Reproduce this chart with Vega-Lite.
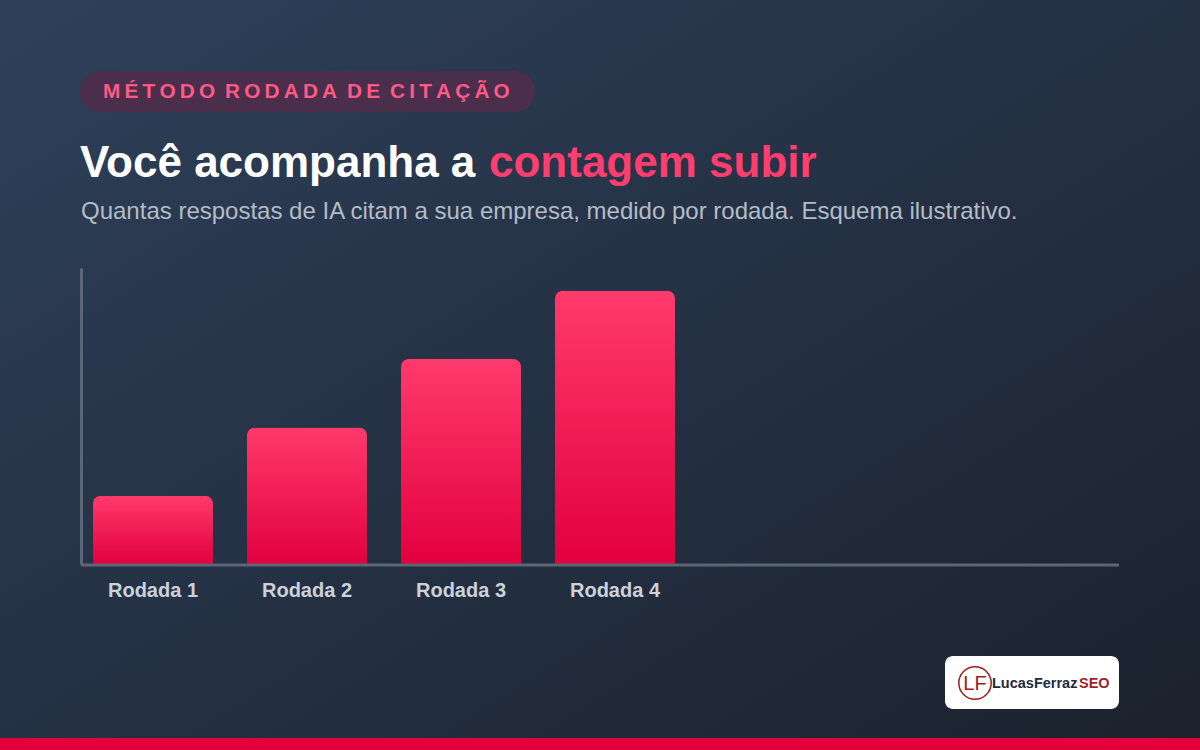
{
  "$schema": "https://vega.github.io/schema/vega-lite/v6.json",
  "width": 1038,
  "height": 296,
  "padding": 0,
  "background": "#212a37",
  "config": {
    "view": {"stroke": null},
    "font": "Liberation Sans"
  },
  "layer": [
    {
      "data": {"values": [{"k": 1}]},
      "mark": {"type": "rect", "color": {"gradient": "linear", "x1": 0, "y1": 0, "x2": 1, "y2": 1, "stops": [{"offset": 0, "color": "#2e405a"}, {"offset": 1, "color": "#1b222d"}]}},
      "encoding": {"x": {"value": -81}, "x2": {"value": 1119}, "y": {"value": -268}, "y2": {"value": 482}}
    },
    {
      "data": {"values": [{"k": 1}]},
      "mark": {"type": "rect", "color": "#e4003b"},
      "encoding": {"x": {"value": -81}, "x2": {"value": 1119}, "y": {"value": 470}, "y2": {"value": 482}}
    },
    {
      "data": {"values": [{"k": 1}]},
      "mark": {"type": "rect", "color": "#4a2e4b", "cornerRadius": 21},
      "encoding": {"x": {"value": -1}, "x2": {"value": 454}, "y": {"value": -197}, "y2": {"value": -156}}
    },
    {
      "data": {"values": [{"t": "M\u2009É\u2009T\u2009O\u2009D\u2009O\u2009 R\u2009O\u2009D\u2009A\u2009D\u2009A\u2009 D\u2009E\u2009 C\u2009I\u2009T\u2009A\u2009Ç\u2009Ã\u2009O"}]},
      "mark": {"type": "text", "font": "Liberation Sans", "fontWeight": "bold", "fontSize": 20.8, "color": "#ff5a86", "align": "left", "baseline": "alphabetic"},
      "encoding": {"text": {"field": "t"}, "x": {"value": 22}, "y": {"value": -170}}
    },
    {
      "data": {"values": [{"t": "Você acompanha a"}]},
      "mark": {"type": "text", "font": "Liberation Sans", "fontWeight": "bold", "fontSize": 44, "color": "#ffffff", "align": "left", "baseline": "alphabetic"},
      "encoding": {"text": {"field": "t"}, "x": {"value": -1}, "y": {"value": -91}}
    },
    {
      "data": {"values": [{"t": "contagem subir"}]},
      "mark": {"type": "text", "font": "Liberation Sans", "fontWeight": "bold", "fontSize": 44, "color": "#ff3d6e", "align": "left", "baseline": "alphabetic"},
      "encoding": {"text": {"field": "t"}, "x": {"value": 408}, "y": {"value": -91}}
    },
    {
      "data": {"values": [{"t": "Quantas respostas de IA citam a sua empresa, medido por rodada. Esquema ilustrativo."}]},
      "mark": {"type": "text", "font": "Liberation Sans", "fontSize": 24, "color": "#b4bcc8", "align": "left", "baseline": "alphabetic"},
      "encoding": {"text": {"field": "t"}, "x": {"value": 0}, "y": {"value": -49}}
    },
    {
      "data": {"values": [{"rodada": "Rodada 1", "citacoes": 3}, {"rodada": "Rodada 2", "citacoes": 6}, {"rodada": "Rodada 3", "citacoes": 9}, {"rodada": "Rodada 4", "citacoes": 12}]},
      "mark": {"type": "bar", "cornerRadiusTopLeft": 8, "cornerRadiusTopRight": 8, "color": {"gradient": "linear", "x1": 0, "y1": 0, "x2": 0, "y2": 1, "stops": [{"offset": 0, "color": "#ff3a6c"}, {"offset": 1, "color": "#e2003e"}]}},
      "encoding": {
        "x": {"field": "rodada", "type": "nominal", "sort": null, "scale": {"range": [0, 606], "paddingInner": 0.2208, "paddingOuter": 0.0779},
              "axis": {"zindex": 3, "domain": false, "ticks": false, "grid": false, "labelFont": "Liberation Sans", "labelFontWeight": "bold", "labelFontSize": 20, "labelColor": "#cbd2dc", "labelPadding": 16, "labelAngle": 0, "title": null}},
        "y": {"field": "citacoes", "type": "quantitative", "scale": {"domain": [0, 13], "nice": false},
              "axis": {"zindex": 3, "domain": true, "domainColor": "#5b6677", "domainWidth": 3, "ticks": false, "grid": false, "labels": false, "title": null}}
      }
    },
    {
      "data": {"values": [{"k": 1}]},
      "mark": {"type": "rule", "color": "#5b6677", "strokeWidth": 3},
      "encoding": {"x": {"value": 0}, "x2": {"value": 1038}, "y": {"value": 297}}
    },
    {
      "data": {"values": [{"k": 1}]},
      "mark": {"type": "rect", "color": "#ffffff", "cornerRadius": 8},
      "encoding": {"x": {"value": 864}, "x2": {"value": 1038}, "y": {"value": 388}, "y2": {"value": 441}}
    },
    {
      "data": {"values": [{"k": 1}]},
      "mark": {"type": "point", "shape": "circle", "filled": false, "stroke": "#9b1c22", "strokeWidth": 1.5, "size": 1050, "opacity": 1},
      "encoding": {"x": {"value": 894}, "y": {"value": 415}}
    },
    {
      "data": {"values": [{"t": "LF"}]},
      "mark": {"type": "text", "font": "Liberation Sans", "fontSize": 20, "color": "#9b1c22", "align": "center", "baseline": "middle"},
      "encoding": {"text": {"field": "t"}, "x": {"value": 894}, "y": {"value": 416}}
    },
    {
      "data": {"values": [{"t": "LucasFerraz"}]},
      "mark": {"type": "text", "font": "Liberation Sans", "fontWeight": "bold", "fontSize": 14.5, "color": "#1f2a3c", "align": "left", "baseline": "middle"},
      "encoding": {"text": {"field": "t"}, "x": {"value": 911}, "y": {"value": 416}}
    },
    {
      "data": {"values": [{"t": "SEO"}]},
      "mark": {"type": "text", "font": "Liberation Sans", "fontWeight": "bold", "fontSize": 14.5, "color": "#a31f27", "align": "left", "baseline": "middle"},
      "encoding": {"text": {"field": "t"}, "x": {"value": 998}, "y": {"value": 416}}
    }
  ]
}
